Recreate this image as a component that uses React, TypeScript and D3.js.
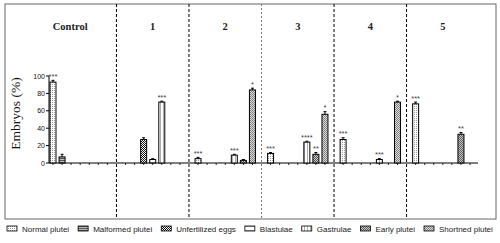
import React from "react";
import * as d3 from "d3";

const groups = ["Control", "1", "2", "3", "4", "5"];
const seriesNames = [
  "Normal plutei",
  "Malformed plutei",
  "Unfertilized eggs",
  "Blastulae",
  "Gastrulae",
  "Early plutei",
  "Shortned plutei",
];
// values per group (Control, 1..5)
const normalPlutei = [93, 0, 5, 11, 27, 68];
const malformedPlutei = [7, 0, 0, 0, 0, 0];
const unfertilizedEggs = [0, 27, 0, 0, 0, 0];
const blastulae = [0, 4, 0, 0, 0, 0];
const gastrulae = [0, 70, 9, 24, 4, 0];
const earlyPlutei = [0, 0, 3, 10, 0, 33];
const shortnedPlutei = [0, 0, 84, 56, 70, 0];

const normalErr = [2, 0, 1.5, 1, 2, 2];
const malformedErr = [3, 0, 0, 0, 0, 0];
const unfertilizedErr = [0, 2, 0, 0, 0, 0];
const blastulaeErr = [0, 1, 0, 0, 0, 0];
const gastrulaeErr = [0, 1, 1, 1, 1, 0];
const earlyErr = [0, 0, 1, 2, 0, 2];
const shortnedErr = [0, 0, 2, 3, 1, 0];

const normalSig = ["***", "", "***", "***", "***", "***"];
const malformedSig = ["", "", "", "", "", ""];
const unfertilizedSig = ["", "", "", "", "", ""];
const blastulaeSig = ["", "", "", "", "", ""];
const gastrulaeSig = ["", "***", "***", "****", "***", ""];
const earlySig = ["", "", "", "**", "", "**"];
const shortnedSig = ["", "", "*", "*", "*", ""];

const yTicks = [0, 20, 40, 60, 80, 100];

const seriesValues = [normalPlutei, malformedPlutei, unfertilizedEggs, blastulae, gastrulae, earlyPlutei, shortnedPlutei];
const seriesErrs = [normalErr, malformedErr, unfertilizedErr, blastulaeErr, gastrulaeErr, earlyErr, shortnedErr];
const seriesSigs = [normalSig, malformedSig, unfertilizedSig, blastulaeSig, gastrulaeSig, earlySig, shortnedSig];

// layout
const W = 500;
const H = 243;
const SLOTS = seriesNames.length + 1; // 7 bars + 1 gap
const LEGEND_FONT = "8px 'Liberation Sans', Arial, sans-serif";

function measure(text: string): number {
  if (typeof document === "undefined") return text.length * 4.5;
  const c = document.createElement("canvas").getContext("2d");
  if (!c) return text.length * 4.5;
  c.font = LEGEND_FONT;
  return c.measureText(text).width;
}

export default function App() {
  const nPos = groups.length * SLOTS - 1;
  const x = d3.scaleLinear().domain([-0.33, nPos - 0.12]).range([50, 478]);
  const y = d3.scaleLinear().domain([0, 100]).range([163, 76]);
  const barW = 6;
  const pos = (g: number, s: number) => g * SLOTS + s;

  // legend flow layout
  const legendItems: { name: string; x: number }[] = [];
  let lx = 7;
  seriesNames.forEach((name) => {
    legendItems.push({ name, x: lx });
    lx += 15 + measure(name) + 9;
  });

  const patterns = (
    <defs>
      <pattern id="p0" width="2" height="2" patternUnits="userSpaceOnUse">
        <rect width="2" height="2" fill="#fff" />
        <rect width="1" height="1" fill="#999" />
      </pattern>
      <pattern id="p1" width="2" height="2" patternUnits="userSpaceOnUse">
        <rect width="2" height="2" fill="#bbb" />
        <rect width="2" height="1" fill="#555" />
      </pattern>
      <pattern id="p2" width="2" height="2" patternUnits="userSpaceOnUse">
        <rect width="2" height="2" fill="#fff" />
        <rect width="1" height="1" fill="#111" />
        <rect x="1" y="1" width="1" height="1" fill="#111" />
      </pattern>
      <pattern id="p3" width="4" height="4" patternUnits="userSpaceOnUse">
        <rect width="4" height="4" fill="#fff" />
        <rect y="2" width="4" height="0.6" fill="#666" />
      </pattern>
      <pattern id="p4" width="3" height="3" patternUnits="userSpaceOnUse">
        <rect width="3" height="3" fill="#fff" />
        <rect x="1" width="0.6" height="3" fill="#777" />
      </pattern>
      <pattern id="p5" width="2" height="2" patternUnits="userSpaceOnUse">
        <rect width="2" height="2" fill="#ccc" />
        <rect width="1" height="1" fill="#555" />
        <rect x="1" y="1" width="1" height="1" fill="#555" />
      </pattern>
      <pattern id="p6" width="2" height="2" patternUnits="userSpaceOnUse">
        <rect width="2" height="2" fill="#ddd" />
        <rect width="1" height="1" fill="#777" />
        <rect x="1" y="1" width="1" height="1" fill="#888" />
      </pattern>
    </defs>
  );

  const bars: React.ReactNode[] = [];
  groups.forEach((_, g) => {
    seriesValues.forEach((vals, s) => {
      const v = vals[g];
      if (v <= 0) return;
      const cx = x(pos(g, s));
      const e = seriesErrs[s][g];
      const yTop = y(v + e);
      bars.push(
        <g key={`b${g}-${s}`}>
          <line x1={cx} x2={cx} y1={y(v)} y2={yTop} stroke="#000" strokeWidth={1} />
          <line x1={cx - 1.5} x2={cx + 1.5} y1={yTop} y2={yTop} stroke="#000" strokeWidth={1} />
          <rect
            x={cx - barW / 2}
            y={y(v)}
            width={barW}
            height={y(0) - y(v)}
            fill={`url(#p${s})`}
            stroke="#000"
            strokeWidth={1}
          />
          {seriesSigs[s][g] && (
            <text x={cx} y={yTop - 1.5} textAnchor="middle" fontSize={7.5} fill="#444" fontFamily="Liberation Sans, Arial, sans-serif">
              {seriesSigs[s][g]}
            </text>
          )}
        </g>
      );
    });
  });

  const xTicks: number[] = [];
  groups.forEach((_, g) => seriesNames.forEach((__, s) => xTicks.push(pos(g, s))));

  const dividers = d3.range(groups.length - 1).map((g) => pos(g, SLOTS - 1));

  return (
    <svg width={W} height={H} style={{ position: "absolute", left: 0, top: 0 }}>
      {patterns}
      <rect x={5} y={4} width={491} height={215} fill="#fff" stroke="#666" strokeWidth={1} />
      {dividers.map((p, i) => (
        <line
          key={`d${i}`}
          x1={x(p)}
          x2={x(p)}
          y1={4}
          y2={219}
          stroke={i === 2 ? "#777" : "#000"}
          strokeWidth={1}
          strokeDasharray={i === 2 ? "2 2" : "3 2"}
        />
      ))}
      {groups.map((gname, g) => (
        <text
          key={`gl${g}`}
          x={x(pos(g, 3)) - (g === 0 ? 10 : 0)}
          y={30}
          textAnchor="middle"
          fontFamily="Liberation Serif, Times New Roman, serif"
          fontWeight="bold"
          fontSize={10.5}
          fill="#222"
        >
          {gname}
        </text>
      ))}
      {/* y axis */}
      <line x1={49} x2={49} y1={y(100)} y2={y(0)} stroke="#000" strokeWidth={1} />
      {yTicks.map((t) => (
        <g key={`yt${t}`}>
          <line x1={46} x2={49} y1={y(t)} y2={y(t)} stroke="#000" strokeWidth={1} />
          <text x={45} y={y(t) + 2.5} textAnchor="end" fontSize={7} fontFamily="Liberation Sans, Arial, sans-serif" fill="#111">
            {t}
          </text>
        </g>
      ))}
      <text
        transform={`translate(20,${(y(0) + y(100)) / 2 - 6}) rotate(-90)`}
        textAnchor="middle"
        fontFamily="Liberation Serif, Times New Roman, serif"
        fontSize={13.5}
        fill="#111"
      >
        Embryos (%)
      </text>
      {/* x axis */}
      <line x1={49} x2={478} y1={y(0)} y2={y(0)} stroke="#000" strokeWidth={1} />
      {xTicks.map((p) => (
        <line key={`xt${p}`} x1={x(p)} x2={x(p)} y1={y(0)} y2={y(0) + 2} stroke="#000" strokeWidth={0.8} />
      ))}
      {bars}
      {/* legend */}
      {legendItems.map((item, s) => (
        <g key={`lg${s}`}>
          <rect x={item.x} y={226} width={10} height={5} fill={`url(#p${s})`} stroke="#000" strokeWidth={0.8} />
          <text x={item.x + 15} y={231.5} fontSize={8} fontFamily="Liberation Sans, Arial, sans-serif" fill="#222">
            {item.name}
          </text>
        </g>
      ))}
    </svg>
  );
}
